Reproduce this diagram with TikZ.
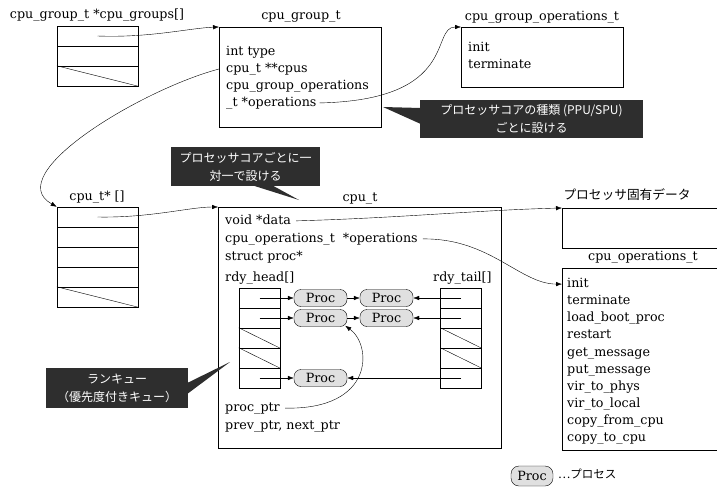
\documentclass[tikz,border=0pt]{standalone}
\usepackage{fontspec}
\setmainfont{DejaVu Serif}
\newfontfamily\jp{Noto Sans CJK JP}
\usetikzlibrary{calc,arrows.meta}

\tikzset{
  cell/.style={draw, minimum width=81pt, minimum height=20pt, inner sep=0pt},
  qcell/.style={draw, minimum width=41pt, minimum height=20pt, inner sep=0pt},
  structbox/.style={draw, anchor=north west, inner sep=0pt},
  member/.style={anchor=west, inner sep=0pt, text height=9.5pt, text depth=2.5pt},
  proc/.style={draw, rounded corners=7pt, fill=black!12, minimum width=53pt, minimum height=17pt, inner sep=0pt},
  note/.style={fill=black!82, text=white, font=\jp\fontsize{12}{18}\selectfont, align=center, inner sep=0pt},
  link/.style={-{Latex[length=6pt,width=4.5pt]}, thin},
}

\begin{document}
\begin{tikzpicture}[x=1pt, y=-1pt, font=\fontsize{12.7}{17}\selectfont]
    \clip (0,0) rectangle (717,487);

    % cpu_groups array
    \node (grplabel) at (97,15) {cpu\_group\_t *cpu\_groups[]};
    \foreach \i in {1,2,3}
        \node[cell] (grp\i) at (97.5,16+20*\i) {};
    \draw (grp3.north west) -- (grp3.south east);

    % cpu_group_t
    \node (grptitle) at (301,17) {cpu\_group\_t};
    \node[structbox, minimum width=162pt, minimum height=100pt] (grpbox) at (219,27) {};
    \foreach \t [count=\i] in {int type, cpu\_t **cpus, cpu\_group\_operations, \_t *operations}
        \node[member] (g\i) at (226,35+17*\i) {\t};

    % cpu_group_operations_t
    \node (gopstitle) at (542,17) {cpu\_group\_operations\_t};
    \node[structbox, minimum width=162pt, minimum height=60pt] (gopsbox) at (461,27) {};
    \node[member] (gi1) at (468,48) {init};
    \node[member] (gi2) at (468,65) {terminate};

    % cpu_t* array
    \node (cpulabel) at (97,197) {cpu\_t* []};
    \foreach \i in {1,...,5}
        \node[cell] (c\i) at (97.5,197+20*\i) {};
    \draw (c5.north west) -- (c5.south east);

    % cpu_t
    \node (cputitle) at (360,199) {cpu\_t};
    \node[structbox, minimum width=283pt, minimum height=241pt] (cpubox) at (218,207) {};
    \node[member] (data) at (225,221) {void *data};
    \node[member] (cpuops) at (225,239) {cpu\_operations\_t~ *operations};
    \node[member] (sproc) at (225,257) {struct proc*};
    \node[member] (head) at (225,278) {rdy\_head[]};
    \node[member] (tail) at (433,278) {rdy\_tail[]};
    \node[member] (pptr) at (225,408) {proc\_ptr};
    \node[member] (plink) at (225,426) {prev\_ptr, next\_ptr};

    % run queues
    \foreach \i in {1,...,5} {
        \node[qcell] (h\i) at (259.5,278+20*\i) {};
        \node[qcell] (r\i) at (461,278+20*\i) {};
    }
    \foreach \i in {3,4} {
        \draw (h\i.north west) -- (h\i.south east);
        \draw (r\i.north west) -- (r\i.south east);
    }
    \node[proc] (p11) at (320.5,298) {Proc};
    \node[proc] (p12) at (386.5,298) {Proc};
    \node[proc] (p21) at (320.5,318) {Proc};
    \node[proc] (p22) at (386.5,318) {Proc};
    \node[proc] (p5) at (320.5,378) {Proc};
    \draw[link] (h1.center) -- (p11);
    \draw[link] (p11) -- (p12);
    \draw[link] (r1.center) -- (p12);
    \draw[link] (h2.center) -- (p21);
    \draw[link] (p21) -- (p22);
    \draw[link] (r2.center) -- (p22);
    \draw[link] (h5.center) -- (p5);
    \draw[link] (r5.center) -- (p5);

    % per-cpu data and cpu_operations_t
    \node (datatitle) at (627,195) {\jp プロセッサ固有データ};
    \node[structbox, minimum width=170pt, minimum height=40pt] (databox) at (562,208) {};
    \node (opstitle) at (643,257) {cpu\_operations\_t};
    \node[structbox, minimum width=170pt, minimum height=182pt] (opsbox) at (562,268) {};
    \foreach \t [count=\i] in {init, terminate, load\_boot\_proc, restart, get\_message,
            put\_message, vir\_to\_phys, vir\_to\_local, copy\_from\_cpu, copy\_to\_cpu}
        \node[member] (o\i) at (567,267+17.1*\i) {\t};

    % pointers
    \draw[link] (grp1.center) .. controls (150,38) and (190,28) .. (grpbox.north west);
    \draw[link] (grpbox.west |- g2) .. controls (140,90) and (0,175) .. (c1.north west);
    \draw[link, shorten <=3pt] (g4.east) .. controls (460,100) and (430,27) .. (gopsbox.north west);
    \draw[link] (c1.center) .. controls (150,218) and (190,207) .. (cpubox.north west);
    \draw[link, shorten <=5pt] (data.east) .. controls (400,218) and (480,210) .. (databox.north west);
    \draw[link, shorten <=5pt] (cpuops.east) .. controls (490,238) and (520,284) .. (opsbox.west |- o1);
    \draw[link, shorten <=5pt] (pptr.east) .. controls (375,410) and (372,345) .. ($(p21.south east)+(-2,-1)$);

    % notes
    \node[note, minimum width=223pt, minimum height=38pt] (kind) at (531.5,119)
        {プロセッサコアの種類 (PPU/SPU)\\ごとに設ける};
    \coordinate (kindtip) at (383,107);
    \fill[black!82] ($(kind.west)+(1,-11)$) -- (kindtip) -- ($(kind.west)+(1,5)$) -- cycle;

    \node[note, minimum width=149pt, minimum height=39pt] (percore) at (245.5,166.5)
        {プロセッサコアごとに一\\対一で設ける};
    \coordinate (percoretip) at (299,200);
    \fill[black!82] ($(percore.south)+(6.5,-1)$) -- (percoretip) -- ($(percore.south)+(26.5,-1)$) -- cycle;

    \node[note, minimum width=142pt, minimum height=40pt] (runq) at (117,388)
        {ランキュー\\（優先度付きキュー）};
    \coordinate (runqtip) at (230,362);
    \fill[black!82] ($(runq.east)+(-1,-5)$) -- (runqtip) -- ($(runq.east)+(-1,6)$) -- cycle;

    % legend
    \node[proc, minimum width=42pt, minimum height=20pt, rounded corners=8pt] (legproc) at (532,476) {Proc};
    \node[anchor=west, inner sep=0pt, font=\jp\fontsize{11.5}{13}\selectfont] (legtxt) at (558,474) {…プロセス};
\end{tikzpicture}
\end{document}
